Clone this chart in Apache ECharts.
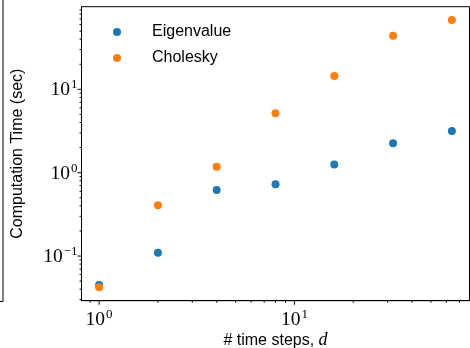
<!DOCTYPE html>
<html><head><meta charset="utf-8">
<script src="https://cdn.jsdelivr.net/npm/echarts@6/dist/echarts.min.js"></script>
<style>html,body{margin:0;padding:0;background:#fff}#c{width:470px;height:348px}</style>
</head><body><div id="c"></div>
<script>
var timeSteps = [1, 2, 4, 8, 16, 32, 64];
var eigenvalue = [0.045, 0.1097, 0.62, 0.726, 1.25, 2.25, 3.17];
var cholesky = [0.0421, 0.406, 1.18, 5.16, 14.5, 44.0, 67.8];
var xMajorTicks = [1, 10];
var xMinorTicks = [0.9, 2, 3, 4, 5, 6, 7, 8, 9, 20, 30, 40, 50, 60, 70];
var yMajorTicks = [0.1, 1, 10];
var yMinorTicks = [0.03, 0.04, 0.05, 0.06, 0.07, 0.08, 0.09, 0.2, 0.3, 0.4, 0.5, 0.6, 0.7, 0.8, 0.9, 2, 3, 4, 5, 6, 7, 8, 9, 20, 30, 40, 50, 60, 70, 80, 90];

var XMIN = 0.8124, XMAX = 78.78, YMIN = 0.02912, YMAX = 98.1;

function pairs(xs, ys) { return xs.map(function (x, i) { return [x, ys[i]]; }); }

var tickData = [];
xMajorTicks.forEach(function (v) { tickData.push([v, YMIN, 0, 4]); });
xMinorTicks.forEach(function (v) { tickData.push([v, YMIN, 0, 2]); });
yMajorTicks.forEach(function (v) { tickData.push([XMIN, v, 1, 4]); });
yMinorTicks.forEach(function (v) { tickData.push([XMIN, v, 1, 2]); });

function powLabel(v) {
  var e = Math.round(Math.log10(v));
  if (Math.abs(Math.log10(v) - e) > 1e-6) return '';
  var s = e < 0 ? '\u2212' + (-e) : '' + e;
  return '{b|10}{s|' + s + '}';
}
var richLab = {
  b: { fontFamily: 'Liberation Serif', fontSize: 19.5, color: '#000', lineHeight: 22, verticalAlign: 'bottom' },
  s: { fontFamily: 'Liberation Serif', fontSize: 13, color: '#000', lineHeight: 22, verticalAlign: 'top', padding: [0, 0, 9, 1] }
};

var chart = echarts.init(document.getElementById('c'), null, { renderer: 'canvas' });
chart.setOption({
  animation: false,
  backgroundColor: '#fff',
  grid: { left: 81.5, right: 0.5, top: 6.7, bottom: 47.3, show: true, borderColor: '#000', borderWidth: 1, backgroundColor: 'transparent', containLabel: false, outerBoundsMode: 'none' },
  xAxis: {
    type: 'log', logBase: 10, min: XMIN, max: XMAX,
    name: '# time steps, {i|d}', nameLocation: 'middle', nameGap: 31, nameMoveOverlap: false,
    nameTextStyle: { fontFamily: 'Liberation Sans', fontSize: 16, color: '#000', verticalAlign: 'top',
      rich: { i: { fontFamily: 'Liberation Serif', fontStyle: 'italic', fontSize: 18, color: '#000' } } },
    axisLine: { show: true, lineStyle: { color: '#000', width: 1 } },
    axisTick: { show: false },
    splitLine: { show: false },
    minorTick: { show: false },
    axisLabel: { showMinLabel: false, showMaxLabel: false, margin: 7, formatter: powLabel, rich: richLab }
  },
  yAxis: {
    type: 'log', logBase: 10, min: YMIN, max: YMAX,
    name: 'Computation Time (sec)', nameLocation: 'middle', nameGap: 56, nameRotate: 90, nameMoveOverlap: false,
    nameTextStyle: { fontFamily: 'Liberation Sans', fontSize: 16, color: '#000' },
    axisLine: { show: true, lineStyle: { color: '#000', width: 1 } },
    axisTick: { show: false },
    splitLine: { show: false },
    minorTick: { show: false },
    axisLabel: { showMinLabel: false, showMaxLabel: false, margin: 4, formatter: powLabel, rich: richLab }
  },
  legend: {
    data: ['Eigenvalue', 'Cholesky'], orient: 'vertical', left: 108, top: 18,
    itemWidth: 8, itemHeight: 8, itemGap: 8, icon: 'circle',
    textStyle: { fontFamily: 'Liberation Sans', fontSize: 16, color: '#000', lineHeight: 18, padding: [0, 0, 0, 26] }
  },
  graphic: [{
    type: 'polyline', silent: true,
    shape: { points: [[3, 0], [3, 301.5], [0, 301.5]] },
    style: { stroke: '#000', lineWidth: 1, fill: null }
  }],
  series: [
    { name: 'Eigenvalue', type: 'scatter', symbol: 'circle', symbolSize: 8, itemStyle: { color: '#1f77b4', opacity: 1 }, data: pairs(timeSteps, eigenvalue), z: 3 },
    { name: 'Cholesky', type: 'scatter', symbol: 'circle', symbolSize: 8, itemStyle: { color: '#ff7f0e', opacity: 1 }, data: pairs(timeSteps, cholesky), z: 4 },
    { name: 'ticks', type: 'custom', silent: true, clip: false, z: 5, data: tickData,
      renderItem: function (params, api) {
        var p = api.coord([api.value(0), api.value(1)]);
        var dir = api.value(2), len = api.value(3);
        var shape = dir === 0
          ? { x1: p[0], y1: p[1], x2: p[0], y2: p[1] + len }
          : { x1: p[0] - len, y1: p[1], x2: p[0], y2: p[1] };
        return { type: 'line', shape: shape, style: { stroke: '#000', lineWidth: 1 } };
      }
    }
  ]
});
</script>
</body></html>
